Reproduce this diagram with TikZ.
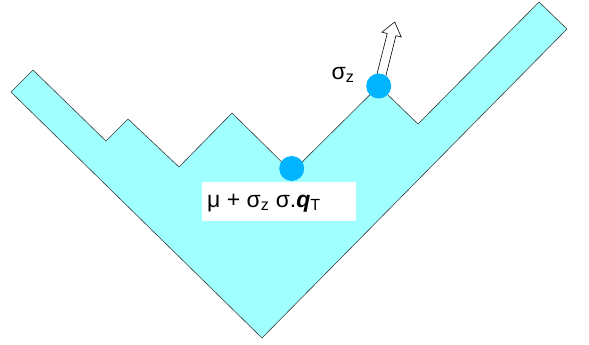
\documentclass[tikz,border=0pt]{standalone}
\usepackage{fontspec}
\setmainfont{Liberation Sans}
\definecolor{bandfill}{RGB}{160,255,255}
\definecolor{dotblue}{RGB}{0,180,255}
\definecolor{edgegray}{RGB}{60,60,60}
\begin{document}
\begin{tikzpicture}[x=1pt,y=-1pt,
  band/.style={fill=bandfill,draw=edgegray,line width=0.6pt,line join=miter},
  dotnode/.style={circle,fill=dotblue,inner sep=0pt,minimum size=25pt},
  lbl/.style={font=\fontsize{23}{26}\selectfont,inner sep=0pt},
  hollow/.style={fill=white,draw=black,line width=0.6pt}]
\useasboundingbox (0,0) rectangle (589,345);
% band polygon
\coordinate (A) at (11,92);
\coordinate (B) at (33,70);
\coordinate (C) at (106,141);
\coordinate (D) at (128,119);
\coordinate (E) at (179,167);
\coordinate (F) at (232,113);
\coordinate (G) at (292,172);
\coordinate (H) at (378.7,86);
\coordinate (I) at (418,124);
\coordinate (J) at (539,2);
\coordinate (K) at (567,29);
\coordinate (L) at (262,338);
\path[band] (A) -- (B) -- (C) -- (D) -- (E) -- (F) -- (G) -- (H) -- (I) -- (J) -- (K) -- (L) -- cycle;
% hollow arrow from upper dot
\path[hollow] (374.3,84.9) -- (387.2,33.5) -- (381.85,32.2) -- (394.7,22.0)
  -- (401.25,37.0) -- (395.9,35.7) -- (383.1,87.1) -- cycle;
% dots
\node[dotnode] (d1) at (291.7,168.5) {};
\node[dotnode] (d2) at (378.7,86) {};
% labels
\node[fill=white,minimum width=154pt,minimum height=39pt,inner sep=0pt] (box) at (279,201.5) {};
\node[lbl,anchor=west] (formula) at (207,203) {μ + σ\textsubscript{z} σ.\textbf{\textit{q}}\textsubscript{T}};
\node[lbl] (sz) at (343,75) {σ\textsubscript{z}};
\end{tikzpicture}
\end{document}
